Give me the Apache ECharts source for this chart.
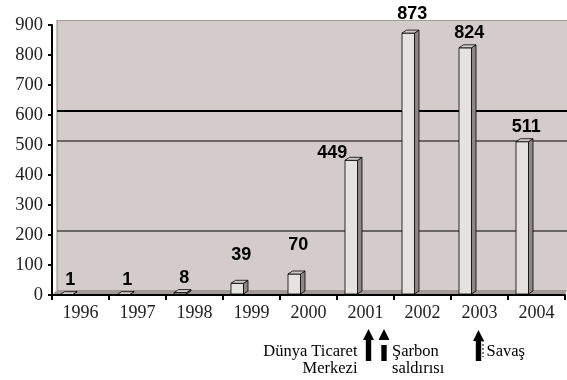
<!DOCTYPE html>
<html>
<head>
<meta charset="utf-8">
<script src="https://cdn.jsdelivr.net/npm/echarts@6/dist/echarts.min.js"></script>
<style>html,body{margin:0;padding:0;background:#fff}#c{width:567px;height:380px}</style>
</head>
<body>
<div id="c"></div>
<script>
// ---- data ----
const years = ['1996','1997','1998','1999','2000','2001','2002','2003','2004'];
const values = [1, 1, 8, 39, 70, 449, 873, 824, 511];
const yTicks = [0, 100, 200, 300, 400, 500, 600, 700, 800, 900];
const wallGridValues = [600, 500, 200];
const events = [
  { text: 'Dünya Ticaret\nMerkezi', side: 'left' },
  { text: 'Şarbon\nsaldırısı', side: 'right' },
  { text: 'Savaş', side: 'right' }
];

// ---- style / layout ----
const DEPTH_X = 5, DEPTH_Y = 5;
const BAR_SHIFT = -20.5, BAR_W = 12.5, BAR_DX = 4.5, BAR_DY = 3;
const labelTweak = { 3: { dy: -28 }, 4: { dy: -29 }, 5: { dx: -23, dy: -7 }, 6: { dy: -19 } };
const serif = '"Liberation Serif", "Times New Roman", serif';
const sans = '"Liberation Sans", Arial, sans-serif';

const chart = echarts.init(document.getElementById('c'), null, { renderer: 'canvas' });

const option = {
  animation: false,
  backgroundColor: '#ffffff',
  grid: { left: 52, right: 2, top: 25, bottom: 85, containLabel: false },
  xAxis: {
    type: 'category',
    data: years,
    z: 6,
    axisLine: { lineStyle: { color: '#000', width: 2 } },
    axisTick: { show: true, length: 5, lineStyle: { color: '#000', width: 2 } },
    axisLabel: { color: '#222', fontFamily: serif, fontSize: 18, margin: 9 },
    splitLine: { show: false }
  },
  yAxis: {
    type: 'value',
    min: yTicks[0],
    max: yTicks[yTicks.length - 1],
    interval: yTicks[1] - yTicks[0],
    z: 6,
    axisLine: { show: true, lineStyle: { color: '#000', width: 2 } },
    axisTick: { show: true, length: 4, lineStyle: { color: '#000', width: 2 } },
    axisLabel: { color: '#222', fontFamily: serif, fontSize: 18.5, margin: 9 },
    splitLine: { show: false }
  },
  series: [
    {
      type: 'custom',
      name: 'backdrop',
      z: 1,
      silent: true,
      data: [[0, 0]],
      renderItem: function (params, api) {
        const cs = params.coordSys;
        const x0 = cs.x, y0 = cs.y, w = cs.width, h = cs.height;
        const children = [];
        children.push({ type: 'rect', shape: { x: x0 + DEPTH_X, y: y0 - DEPTH_Y, width: w - DEPTH_X + 2, height: h }, style: { fill: '#d4cccb', stroke: null } });
        children.push({ type: 'line', shape: { x1: x0 + DEPTH_X, y1: y0 - DEPTH_Y + 0.5, x2: x0 + w + 2, y2: y0 - DEPTH_Y + 0.5 }, style: { stroke: '#a39b9a', lineWidth: 1 } });
        children.push({ type: 'line', shape: { x1: x0 + DEPTH_X, y1: y0 - DEPTH_Y, x2: x0 + DEPTH_X, y2: y0 + h - DEPTH_Y }, style: { stroke: '#8f8887', lineWidth: 1 } });
        children.push({ type: 'polygon', shape: { points: [[x0, y0 + h], [x0 + DEPTH_X, y0 + h - DEPTH_Y], [x0 + w + 2, y0 + h - DEPTH_Y], [x0 + w, y0 + h]] }, style: { fill: '#a29a99', stroke: null } });
        wallGridValues.forEach(function (v, i) {
          const p = api.coord([0, v]);
          const yy = p[1] - 4;
          children.push({ type: 'line', shape: { x1: x0 + DEPTH_X, y1: yy, x2: x0 + w + 2, y2: yy }, style: { stroke: '#000', lineWidth: i === 0 ? 2 : 1 } });
        });
        return { type: 'group', children: children };
      }
    },
    {
      type: 'custom',
      name: 'bars',
      z: 3,
      data: values.map(function (v, i) { return [i, v]; }),
      renderItem: function (params, api) {
        const idx = api.value(0);
        const v = api.value(1);
        const base = api.coord([idx, 0]);
        const top = api.coord([idx, v]);
        const x0 = base[0] + BAR_SHIFT;
        const yb = base[1] - 1, yt = top[1];
        const t = labelTweak[idx] || {};
        const lx = x0 + BAR_W / 2 + 4 + (t.dx || 0);
        const ly = yt + (t.dy || -15);
        const st = { stroke: '#000', lineWidth: 0.8 };
        return {
          type: 'group',
          children: [
            { type: 'polygon', shape: { points: [[x0 + BAR_W, yt], [x0 + BAR_W + BAR_DX, yt - BAR_DY], [x0 + BAR_W + BAR_DX, yb - BAR_DY], [x0 + BAR_W, yb]] }, style: Object.assign({ fill: '#8e8686' }, st) },
            { type: 'rect', shape: { x: x0, y: yt, width: BAR_W, height: Math.max(0, yb - yt) }, style: Object.assign({ fill: '#e6e2df' }, st) },
            { type: 'polygon', shape: { points: [[x0, yt], [x0 + BAR_DX, yt - BAR_DY], [x0 + BAR_W + BAR_DX, yt - BAR_DY], [x0 + BAR_W, yt]] }, style: Object.assign({ fill: '#d0cac8' }, st) },
            { type: 'text', x: lx, y: ly, style: { text: String(v), fill: '#000', font: 'bold 18px ' + sans, align: 'center', verticalAlign: 'middle' } }
          ]
        };
      }
    }
  ],
  graphic: []
};

chart.setOption(option);

function arrow(cx, tipY, botY, gap) {
  const els = [];
  els.push({ type: 'polygon', shape: { points: [[cx, tipY], [cx + 5.5, tipY + 11], [cx - 5.5, tipY + 11]] }, style: { fill: '#000' } });
  const sTop = tipY + 11 + (gap || 0);
  els.push({ type: 'rect', shape: { x: cx - 2.7, y: sTop, width: 5.4, height: botY - sTop }, style: { fill: '#000' } });
  return els;
}
const p2001 = chart.convertToPixel({ xAxisIndex: 0 }, '2001');
const p2003 = chart.convertToPixel({ xAxisIndex: 0 }, '2003');
const g = [];
const a1 = p2001 + 3, a2 = p2001 + 18.5, a3 = p2003 - 1;
arrow(a1, 329, 361, 0).forEach(function (e) { g.push(e); });
arrow(a2, 329, 361, 5).forEach(function (e) { g.push(e); });
arrow(a3, 330, 361, 0).forEach(function (e) { g.push(e); });
g.push({ type: 'line', shape: { x1: a3 + 4.5, y1: 340, x2: a3 + 4.5, y2: 357 }, style: { stroke: '#000', lineWidth: 1, lineDash: [2, 2] } });
const capFont = '16.5px ' + serif;
g.push({ type: 'text', x: a1 - 11, y: 343.5, style: { text: events[0].text, font: capFont, fill: '#000', align: 'right', lineHeight: 17 } });
g.push({ type: 'text', x: a2 + 8, y: 343.5, style: { text: events[1].text, font: capFont, fill: '#000', align: 'left', lineHeight: 17 } });
g.push({ type: 'text', x: a3 + 8, y: 343.5, style: { text: events[2].text, font: capFont, fill: '#000', align: 'left', lineHeight: 17 } });
chart.setOption({ graphic: g });
</script>
</body>
</html>
